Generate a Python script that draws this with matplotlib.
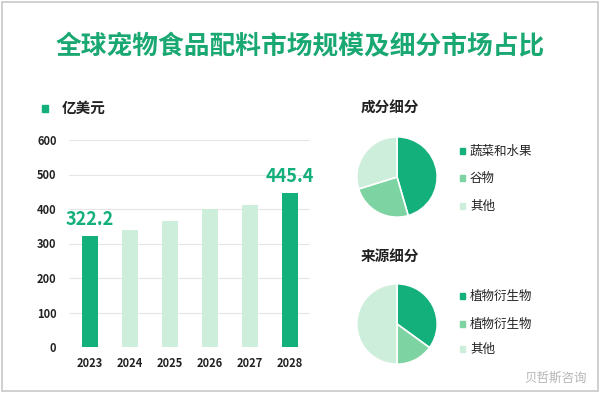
import numpy as np
import matplotlib.pyplot as plt
from matplotlib.patches import Rectangle

plt.rcParams['font.family'] = ['Noto Sans CJK SC', 'DejaVu Sans']

# 数据
years = ['2023', '2024', '2025', '2026', '2027', '2028']
market = [322.2, 338, 366, 401, 412, 445.4]
highlight = [True, False, False, False, False, True]

comp_labels = ['蔬菜和水果', '谷物', '其他']
comp_values = [45.5, 24.7, 29.8]

src_labels = ['植物衍生物', '植物衍生物', '其他']
src_values = [35, 15, 50]

dark = '#14b07b'
mid = '#7dd4a2'
light = '#cdeedb'
text_c = '#222222'

W, H = 600, 393
fig = plt.figure(figsize=(6, 3.93), dpi=100)


def box(l, t, w, h):
    return [l / W, 1 - (t + h) / H, w / W, h / H]


# 外框
fig.patches.append(Rectangle((0.003, 0.004), 0.994, 0.992, transform=fig.transFigure,
                             fill=False, ec='#c8c8c8', lw=1.2))

fig.text(0.5, 1 - 47 / H, '全球宠物食品配料市场规模及细分市场占比', ha='center', va='center',
         fontsize=18.5, fontweight='bold', color='#1aa872')

# 柱状图
ax = fig.add_axes(box(69, 140, 241, 207))
colors = [dark if h else light for h in highlight]
x = np.arange(len(years))
ax.bar(x, market, width=0.4, color=colors, zorder=3)
ax.set_xlim(-0.525, 5.5)
ax.set_ylim(0, 600)
ax.set_yticks(range(0, 601, 100))
ax.set_xticks(x)
ax.set_xticklabels(years)
ax.grid(axis='y', color='#e6e6e6', lw=0.8, zorder=0)
for s in ax.spines.values():
    s.set_visible(False)
ax.tick_params(length=0, labelsize=8, labelcolor=text_c, pad=7)
for lab in ax.get_xticklabels() + ax.get_yticklabels():
    lab.set_fontweight('bold')
ax.tick_params(axis='y', pad=9)
for i in (0, 5):
    ax.annotate(f'{market[i]:.1f}', (x[i], market[i]), xytext=(0, 5), textcoords='offset points',
                ha='center', va='bottom', fontsize=13, fontweight='bold', color=dark)

fig.patches.append(Rectangle((42 / W, 1 - 112 / H), 6 / W, 7 / H, transform=fig.transFigure,
                             color=dark))
fig.text(62 / W, 1 - 108 / H, '亿美元', ha='left', va='center', fontsize=10.5,
         fontweight='bold', color=text_c)


def draw_pie(cx, cy, title, ty, labels, values, rows):
    pax = fig.add_axes(box(cx - 41, cy - 41, 82, 82))
    pax.pie(values, colors=[dark, mid, light], startangle=90, counterclock=False,
            wedgeprops=dict(edgecolor='white', linewidth=1.2))
    pax.set_xlim(-1.02, 1.02)
    pax.set_ylim(-1.02, 1.02)
    fig.text(361 / W, 1 - ty / H, title, ha='left', va='center', fontsize=10.5,
             fontweight='bold', color=text_c)
    for lab, c, ry in zip(labels, [dark, mid, light], rows):
        fig.patches.append(Rectangle((460 / W, 1 - (ry + 3) / H), 5 / W, 6 / H,
                                     transform=fig.transFigure, color=c))
        fig.text(470 / W, 1 - ry / H, lab, ha='left', va='center', fontsize=9,
                 fontweight='medium', color=text_c)


draw_pie(397, 177, '成分细分', 108, comp_labels, comp_values, [151, 178, 206])
draw_pie(397, 324, '来源细分', 256, src_labels, src_values, [296, 324, 349])

fig.text(556 / W, 1 - 378 / H, '贝哲斯咨询', ha='center', va='center', fontsize=9,
         color='#b5b5b5')

fig.savefig('out.png', dpi=100)
